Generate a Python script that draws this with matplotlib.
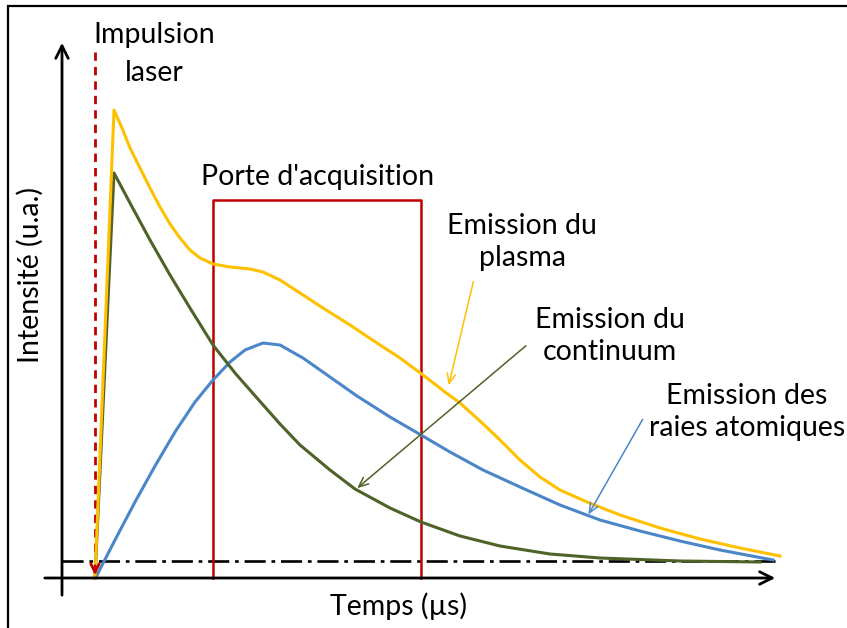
import matplotlib.pyplot as plt
from matplotlib.patches import Rectangle

plt.rcParams['font.family'] = ['Lato', 'DejaVu Sans']

t_plasma = [3.3, 5.2, 6.0, 6.8, 7.8, 8.8, 9.8, 10.8, 11.8, 12.8, 13.8, 15.1, 16.8, 18.8,
            20.1, 21.8, 23.8, 26.1, 28.8, 31.8, 33.8, 36.1, 38.3, 39.8, 41.8, 43.8,
            45.8, 47.8, 49.8, 52.5, 55.8, 59.8, 63.8, 67.8, 71.8]
i_plasma = [0, 93.6, 90, 86, 82, 78, 74.2, 70.8, 68, 65.6, 64, 62.8, 62.2, 61.8,
            61.2, 59.6, 57, 54, 50.6, 46.6, 44, 40.6, 37.2, 35, 31.4, 27.6,
            23.6, 20.2, 17.6, 15.2, 12.6, 10, 7.8, 6, 4.4]

t_continuum = [3.3, 5.2, 6.8, 8.8, 10.8, 12.8, 15.1, 17.3, 19.5, 21.8, 23.8, 26.8,
               29.3, 32.8, 35.9, 39.8, 43.8, 48.8, 53.8, 61.8, 69.8]
i_continuum = [0, 81, 75, 67.6, 60.6, 54, 46.6, 41, 36, 30.8, 26.6, 21.6,
               17.8, 14, 11.2, 8.4, 6.4, 4.8, 4, 3.4, 3.2]

t_raies = [3.4, 5.3, 7.3, 9.3, 11.3, 13.3, 15.1, 16.8, 18.3, 20.1, 21.8, 24.1, 26.8,
           29.5, 32.8, 35.9, 38.8, 42.1, 45.8, 49.8, 53.8, 57.8, 61.8, 65.8, 71.1]
i_raies = [0.2, 7.6, 15.2, 22.4, 29.2, 35.2, 39.6, 43.2, 45.6, 47, 46.6, 44, 40.2,
           36.4, 32.2, 28.6, 25.2, 21.6, 18.2, 14.6, 11.6, 9.4, 7.4, 5.6, 3.6]

t_laser = 3.3
porte = [15.1, 35.9]
porte_haut = 75.6
fond = 3.4

jaune = '#FFC000'
vert = '#4F6228'
bleu = '#4A86C8'
rouge = '#C00000'

fig = plt.figure(figsize=(8.47, 6.28), dpi=100)
ax = fig.add_axes([0, 0, 1, 1])
ax.set_xlim(-6.2, 78.5)
ax.set_ylim(-10, 115.6)
ax.axis('off')

# cadre (coupe a droite et en bas comme l'original)
fig.patches.append(Rectangle((8/847, -0.1), 1.2, 1.1 - 6/628, transform=fig.transFigure,
                             fill=False, edgecolor='black', linewidth=1.6))

# axes avec fleches
ax.annotate('', xy=(71.6, 0), xytext=(-2, 0),
            arrowprops=dict(arrowstyle='->,head_length=0.9,head_width=0.45', color='black', lw=2))
ax.annotate('', xy=(0, 107.6), xytext=(0, -4),
            arrowprops=dict(arrowstyle='->,head_length=0.9,head_width=0.45', color='black', lw=2))

# ligne de fond
ax.plot([0, 71.8], [fond, fond], color='black', lw=1.9, linestyle=(0, (8, 2.2, 1.4, 2.2)))

# impulsion laser
ax.plot([t_laser, t_laser], [105.2, 1.5], color=rouge, lw=2, linestyle=(0, (3, 2.2)))
ax.annotate('', xy=(t_laser, 0), xytext=(t_laser, 3),
            arrowprops=dict(arrowstyle='->,head_length=0.6,head_width=0.3', color=rouge, lw=2))

# porte d'acquisition
ax.plot([porte[0], porte[0], porte[1], porte[1]], [0, porte_haut, porte_haut, 0],
        color=rouge, lw=1.8)

ax.plot(t_raies, i_raies, color=bleu, lw=2.2, solid_joinstyle='round')
ax.plot(t_continuum, i_continuum, color=vert, lw=2.2, solid_joinstyle='round')
ax.plot(t_plasma, i_plasma, color=jaune, lw=2.2, solid_joinstyle='round')

fs = 20.5
ax.text(9.2, 104.8, 'Impulsion\nlaser', ha='center', va='center', fontsize=fs, linespacing=1.55)
ax.text(25.6, 80.2, "Porte d'acquisition", ha='center', va='center', fontsize=fs)
ax.text(46, 67.2, 'Emission du\nplasma', ha='center', va='center', fontsize=fs, linespacing=1.3)
ax.text(54.8, 48.4, 'Emission du\ncontinuum', ha='center', va='center', fontsize=fs, linespacing=1.3)
ax.text(68.5, 33.2, 'Emission des\nraies atomiques', ha='center', va='center', fontsize=fs, linespacing=1.3)
ax.text(-3.2, 60.6, 'Intensité (u.a.)', ha='center', va='center', fontsize=fs, rotation=90)
ax.text(33.6, -5.6, 'Temps (µs)', ha='center', va='center', fontsize=fs)

fleche = '->,head_length=0.7,head_width=0.3'
ax.annotate('', xy=(38.6, 38), xytext=(41.2, 59.8),
            arrowprops=dict(arrowstyle=fleche, color=jaune, lw=1.1))
ax.annotate('', xy=(29.3, 17.6), xytext=(46.6, 46.8),
            arrowprops=dict(arrowstyle=fleche, color=vert, lw=1.1))
ax.annotate('', xy=(52.5, 12.2), xytext=(58.2, 32.2),
            arrowprops=dict(arrowstyle=fleche, color=bleu, lw=1.1))

fig.savefig('out.png', dpi=100)
